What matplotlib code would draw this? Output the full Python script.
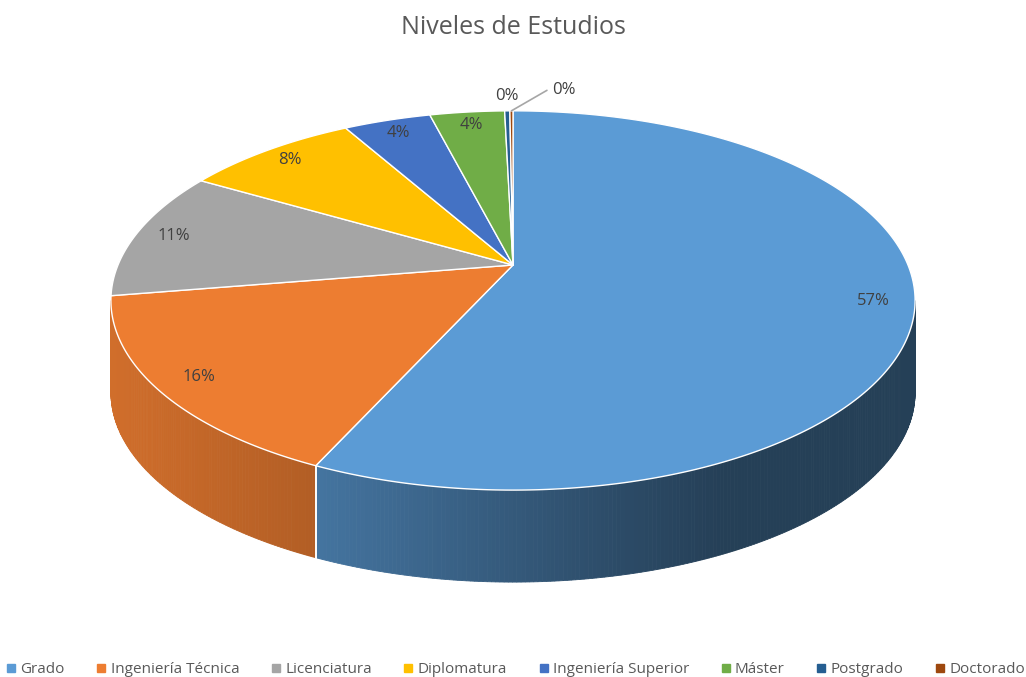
import numpy as np
import matplotlib.pyplot as plt
from matplotlib.patches import Polygon
from matplotlib.lines import Line2D

# Data
categories = ['Grado', 'Ingeniería Técnica', 'Licenciatura', 'Diplomatura',
              'Ingeniería Superior', 'Máster', 'Postgrado', 'Doctorado']
values = [56.8, 15.6, 11.0, 8.4, 4.2, 3.6, 0.25, 0.15]
colors = ['#5B9BD5', '#ED7D31', '#A5A5A5', '#FFC000',
          '#4472C4', '#70AD47', '#255E91', '#9E480E']

plt.rcParams['font.family'] = ['Open Sans', 'DejaVu Sans']

# pie geometry (pixel space), simple perspective tilt
cx, cy = 513, 265
A, B = 395, 183
p = 0.187
depth = 92


def proj(r, th):
    t = np.radians(th)
    x = r * np.sin(t)
    z = r * np.cos(t)
    w = 1 + p * z
    return cx + A * x / w, cy - B * z / w


def shade(x):
    return np.interp(x, [110, 316, 600, 720, 920], [0.88, 0.75, 0.5, 0.41, 0.41])


fig = plt.figure(figsize=(10.26, 6.77), dpi=100)
ax = fig.add_axes([0, 0, 1, 1])
ax.set_xlim(0, 1026)
ax.set_ylim(677, 0)
ax.axis('off')

total = sum(values)
bounds = np.concatenate([[0], np.cumsum(values) / total * 360])

# visible side wall (front half)
th_r = np.degrees(np.arccos(-p))
th_l = 360 - th_r

for i, c in enumerate(colors):
    a, b = max(bounds[i], th_r), min(bounds[i + 1], th_l)
    if a >= b:
        continue
    base = np.array(plt.matplotlib.colors.to_rgb(c))
    ts = np.linspace(a, b, int((b - a) / 0.5) + 2)
    for t0, t1 in zip(ts[:-1], ts[1:]):
        x0, y0 = proj(1, t0)
        x1, y1 = proj(1, t1)
        col = np.clip(base * shade((x0 + x1) / 2), 0, 1)
        ax.add_patch(Polygon([(x0, y0), (x1, y1), (x1, y1 + depth), (x0, y0 + depth)],
                             closed=True, facecolor=col, edgecolor=col, lw=0.6, zorder=1))
    # white seam between walls
    for t in (a, b):
        if th_r < t < th_l:
            x0, y0 = proj(1, t)
            ax.plot([x0, x0], [y0, y0 + depth], color='white', lw=1.2, zorder=2)

# top face
for i, c in enumerate(colors):
    ts = np.linspace(bounds[i], bounds[i + 1], max(int((bounds[i + 1] - bounds[i]) / 0.5), 2) + 1)
    pts = [(cx, cy)] + [proj(1, t) for t in ts]
    ax.add_patch(Polygon(pts, closed=True, facecolor=c, edgecolor='white', lw=1.0,
                         joinstyle='round', zorder=3))

# labels
for i, v in enumerate(values):
    mid = (bounds[i] + bounds[i + 1]) / 2
    txt = f'{round(v / total * 100):.0f}%'
    if v >= 1:
        lx, ly = proj(0.9, mid)
        ax.text(lx, ly, txt, ha='center', va='center', fontsize=12, color='#404040', zorder=5)
    elif i == len(values) - 1:
        ex, ey = proj(1.0, mid)
        ax.annotate(txt, xy=(ex, ey), xytext=(38, 15), textcoords='offset points',
                    ha='center', va='center', fontsize=12, color='#404040', zorder=5,
                    arrowprops=dict(arrowstyle='-', color='#a6a6a6', lw=1.2,
                                    shrinkA=2, shrinkB=0, relpos=(0, 0.5),
                                    connectionstyle='angle,angleA=0,angleB=30,rad=0'))
    else:
        lx, ly = proj(1.12, mid)
        ax.text(lx, ly, txt, ha='center', va='center', fontsize=12, color='#404040', zorder=5)

fig.text(0.5, 1 - 27 / 677, 'Niveles de Estudios', ha='center', va='center',
         fontsize=18, color='#595959')

handles = [Line2D([], [], marker='s', linestyle='none', markersize=5.5,
                  markerfacecolor=c, markeredgecolor=c) for c in colors]
fig.legend(handles, categories, loc='lower center', bbox_to_anchor=(0.502, -0.021),
           ncol=8, frameon=False, fontsize=11, handletextpad=0.2, columnspacing=2.0,
           handlelength=0.8, labelcolor='#595959')

fig.savefig('out.png', dpi=100)
